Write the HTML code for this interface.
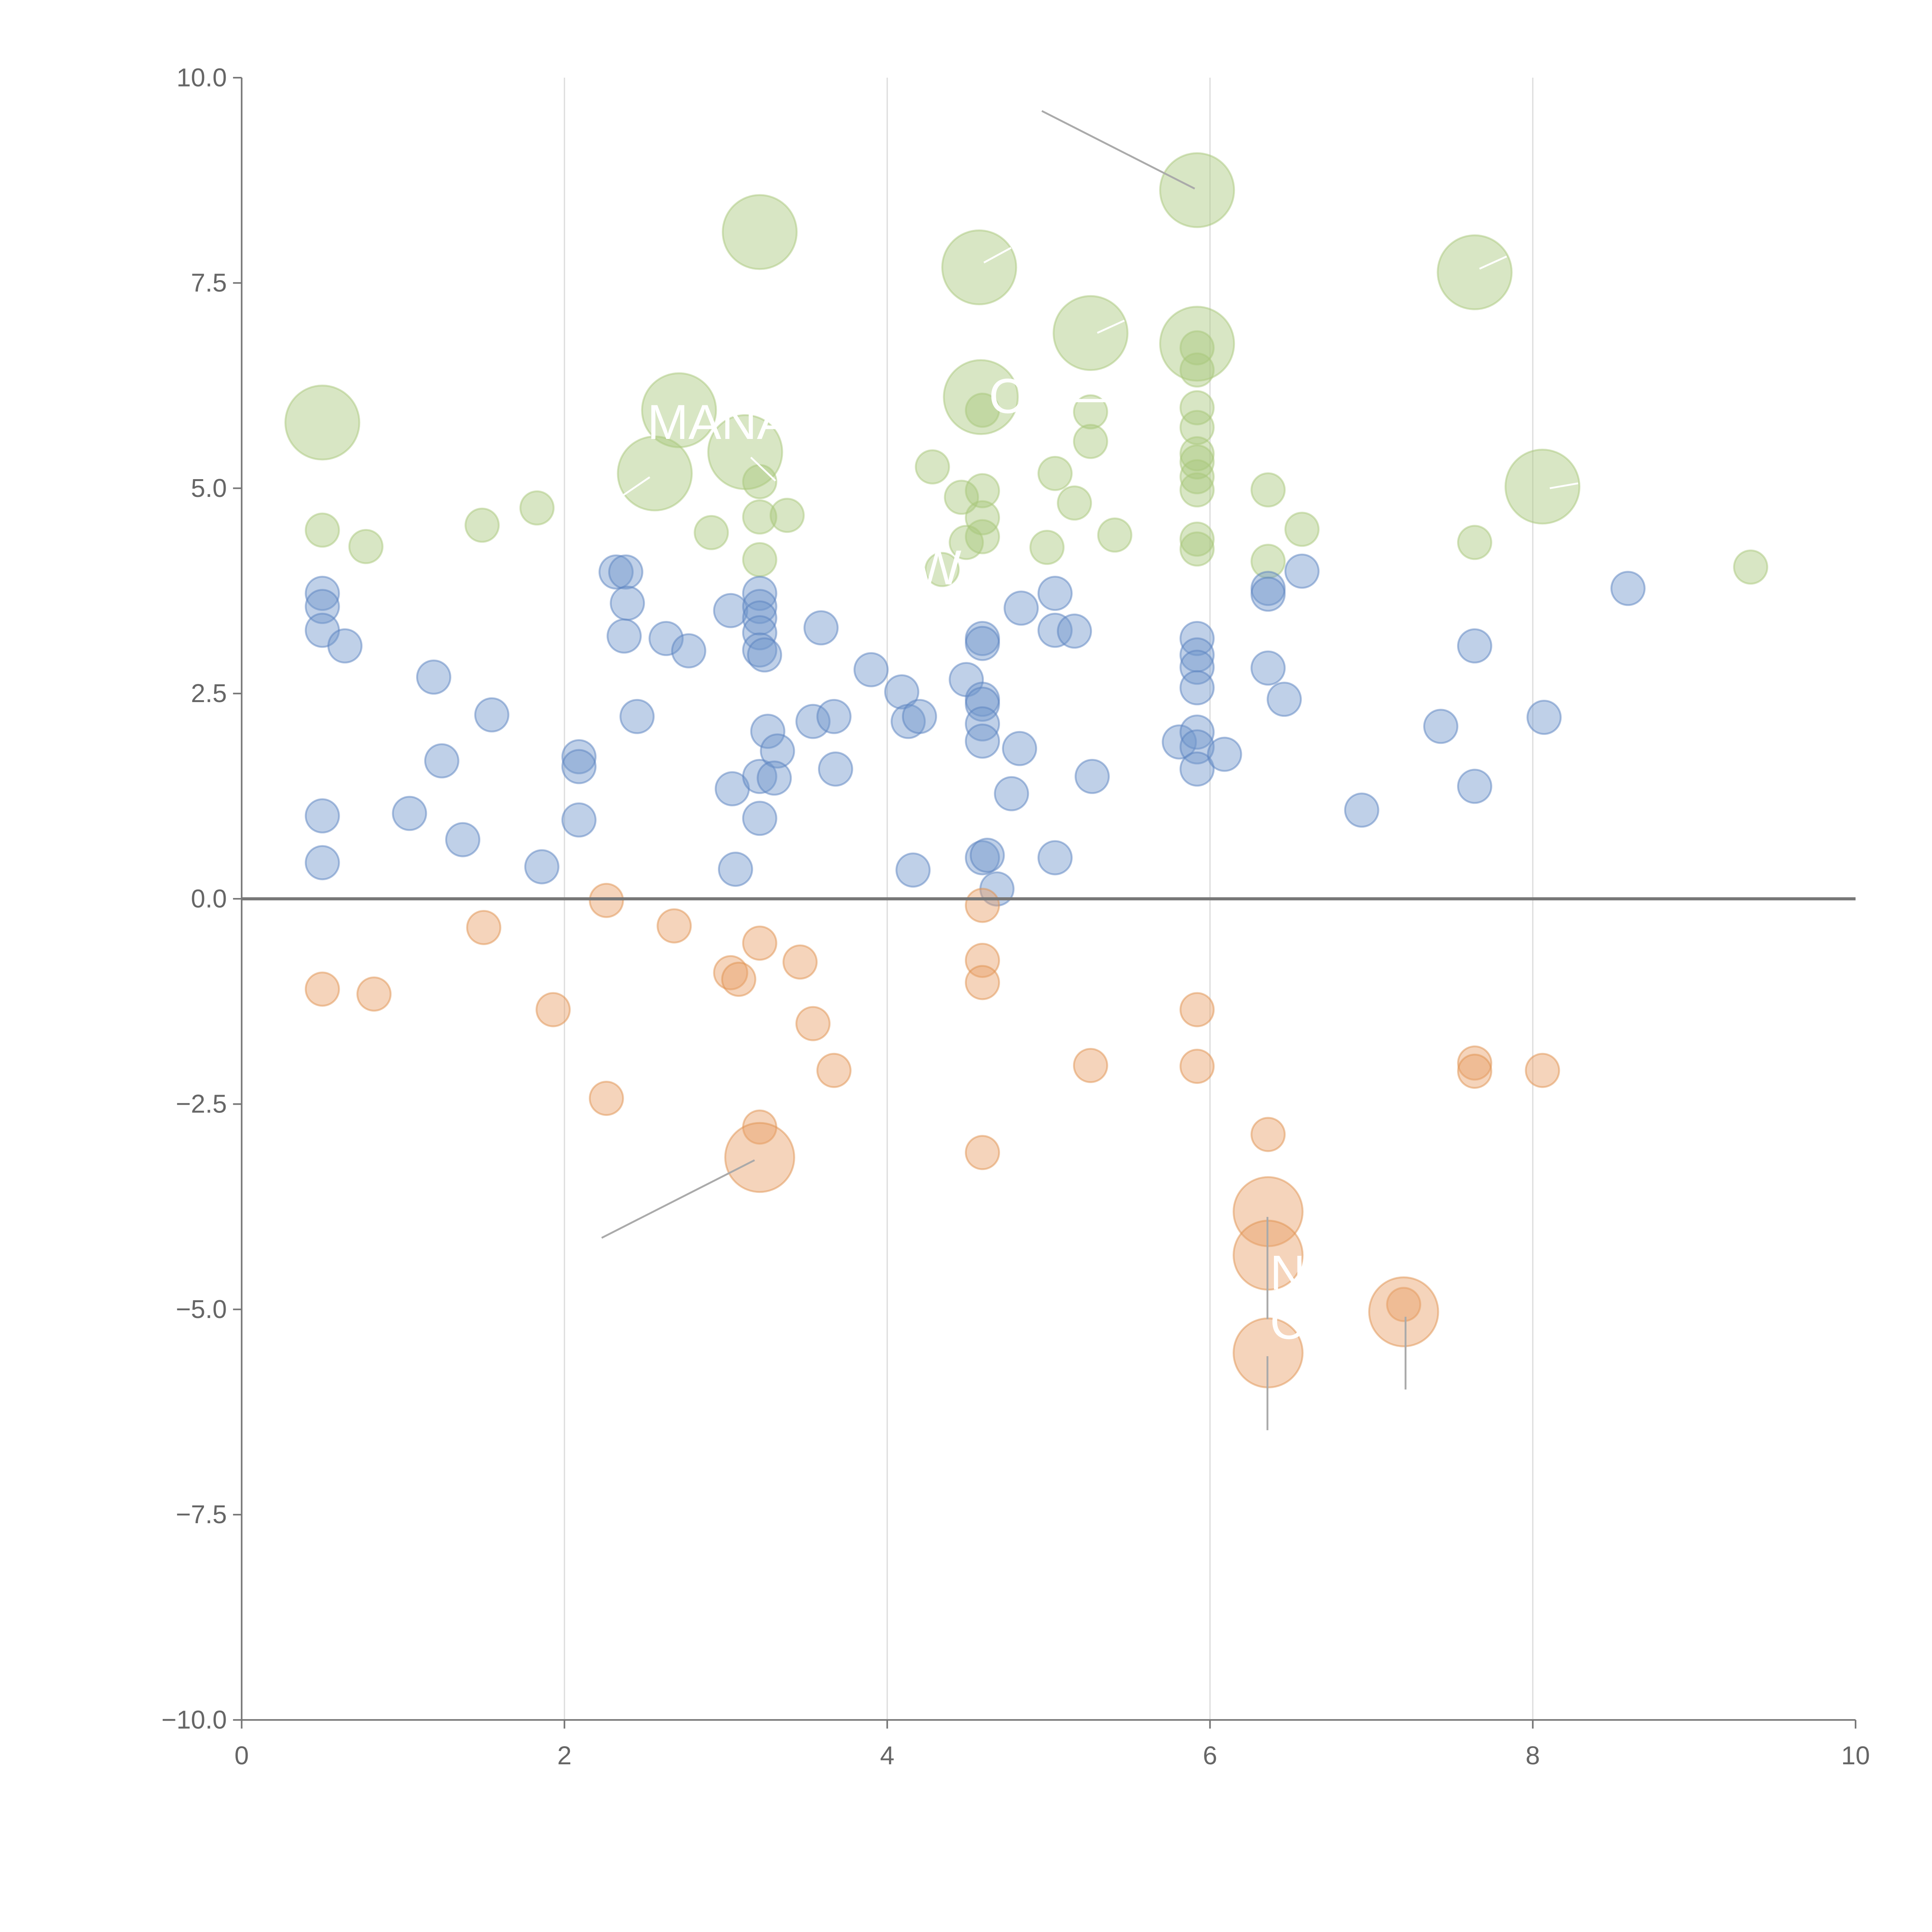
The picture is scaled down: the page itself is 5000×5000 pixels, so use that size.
<!DOCTYPE html>
<html><head><meta charset="utf-8"><style>
html,body{margin:0;padding:0;background:#fff}
svg{display:block}
text{font-family:"Liberation Sans",sans-serif}
</style></head><body>
<svg id="chart" width="5000" height="5000" viewBox="0 0 1567 1567" xmlns="http://www.w3.org/2000/svg">
<g id="grid"></g>
<g id="marks"></g>
<g id="axes"></g>
<g id="annots"></g>
</svg>
<script>
const xTicks=[0,2,4,6,8,10];
const yTicks=[-10,-7.5,-5,-2.5,0,2.5,5,7.5,10];
const greenX=[0.50,0.77,1.49,1.83,2.91,3.21,3.21,3.21,3.38,4.28,4.46,4.59,4.59,4.59,4.49,4.34,4.59,5.04,5.16,4.99,5.26,5.26,5.41,5.92,5.92,5.92,5.92,5.92,5.92,5.92,5.92,5.92,5.92,6.36,6.36,6.57,7.64,9.35,
0.50,3.21,4.57,5.26,5.92,5.92,7.64,4.58,2.71,2.56,3.12,8.06];
const greenY=[4.49,4.29,4.55,4.76,4.46,5.08,4.65,4.13,4.67,5.26,4.89,4.97,4.64,4.41,4.34,4.01,5.95,5.18,4.82,4.28,5.93,5.57,4.43,6.71,6.44,5.98,5.74,5.42,5.32,5.14,4.98,4.38,4.26,4.98,4.11,4.50,4.34,4.04,
5.80,8.12,7.69,6.89,8.63,6.76,7.63,6.11,5.95,5.18,5.44,5.02];
const greenS=[1,1,1,1,1,1,1,1,1,1,1,1,1,1,1,1,1,1,1,1,1,1,1,1,1,1,1,1,1,1,1,1,1,1,1,1,1,1,
5,5,5,5,5,5,5,5,5,5,5,5];
const blueX=[0.50,0.50,0.50,0.64,0.50,0.50,1.04,1.19,1.24,1.37,1.55,1.86,2.09,2.09,2.09,2.32,2.38,2.39,2.37,2.45,2.63,2.77,3.03,3.04,3.06,3.21,3.21,3.21,3.21,3.21,3.24,3.21,3.21,3.26,3.32,3.30,3.54,3.59,3.67,3.68,3.90,4.09,4.13,4.20,4.16,4.49,4.59,4.59,4.59,4.59,4.59,4.59,4.59,4.62,4.68,4.77,4.82,4.83,5.04,5.04,5.16,5.04,5.27,5.81,5.92,5.92,5.92,5.92,5.92,5.92,5.92,6.09,6.36,6.36,6.36,6.46,6.57,6.94,7.43,7.64,7.64,8.07,8.59];
const blueY=[3.72,3.56,3.27,3.08,1.01,0.44,1.04,2.70,1.68,0.72,2.24,0.39,1.73,1.61,0.96,3.98,3.98,3.60,3.20,2.22,3.17,3.02,3.51,1.34,0.36,3.72,3.56,3.42,3.24,3.03,2.97,1.49,0.98,2.04,1.80,1.47,2.16,3.30,2.22,1.58,2.79,2.52,2.16,2.22,0.35,2.67,3.17,3.11,2.43,2.37,2.13,1.92,0.50,0.53,0.12,1.28,1.83,3.54,3.72,3.27,3.26,0.50,1.49,1.91,3.17,2.97,2.82,2.57,2.03,1.85,1.58,1.76,3.78,3.71,2.81,2.43,3.99,1.08,2.10,3.08,1.37,2.21,3.78];
const orangeX=[0.50,0.82,1.50,1.93,2.26,2.26,2.68,3.03,3.08,3.21,3.21,3.46,3.54,3.67,4.59,4.59,4.59,4.59,5.26,5.92,5.92,6.36,7.64,7.64,8.06,7.20,
3.21,6.36,6.36,6.36,7.20];
const orangeY=[-1.10,-1.16,-0.35,-1.35,-0.02,-2.43,-0.33,-0.90,-0.98,-0.54,-2.78,-0.77,-1.52,-2.09,-0.08,-0.75,-1.02,-3.09,-2.03,-1.35,-2.04,-2.87,-2.00,-2.10,-2.09,-4.94,
-3.15,-3.81,-4.34,-5.53,-5.03];
const orangeS=[1,1,1,1,1,1,1,1,1,1,1,1,1,1,1,1,1,1,1,1,1,1,1,1,1,1,
4.3,4.3,4.3,4.3,4.3];

const NS='http://www.w3.org/2000/svg';
const X0=196,X1=1505,Y0=1395,Y1=63;
const sx=v=>X0+(v-0)/(10-0)*(X1-X0);
const sy=v=>Y0-(v+10)/20*(Y0-Y1);
function mk(tag,attrs,parent){const e=document.createElementNS(NS,tag);for(const k in attrs)e.setAttribute(k,attrs[k]);parent.appendChild(e);return e;}
const grid=document.getElementById('grid'),marks=document.getElementById('marks'),axes=document.getElementById('axes'),ann=document.getElementById('annots');
xTicks.forEach(t=>{if(t>0&&t<10){const l=mk('line',{x1:sx(t),x2:sx(t),y1:Y1,y2:Y0,stroke:'#dcdcdc','stroke-width':1},grid);

}});
function series(xs,ys,ss,fill,stroke,name){xs.forEach((x,i)=>{const s=ss?ss[i]:1;const r=s>1?(s>4.5?30:28):13.5;
const c=mk('circle',{cx:sx(x),cy:sy(ys[i]),r:r,fill:fill,'fill-opacity':0.45,stroke:stroke,'stroke-opacity':0.5,'stroke-width':1.5},marks);

});}
series(greenX,greenY,greenS,'#a9c77c','#a9c77c','green-bubble');
series(blueX,blueY,null,'#7096cc','#5a82c0','blue-bubble');
series(orangeX,orangeY,orangeS,'#e8a068','#e0924f','orange-bubble');
let a=mk('line',{x1:X0,x2:X0,y1:Y1,y2:Y0,stroke:'#777','stroke-width':1.3},axes);


a=mk('line',{x1:X0,x2:X1,y1:Y0,y2:Y0,stroke:'#777','stroke-width':1.3},axes);


a=mk('line',{x1:X0,x2:X1,y1:sy(0),y2:sy(0),stroke:'#777','stroke-width':2.5},axes);


xTicks.forEach(t=>{mk('line',{x1:sx(t),x2:sx(t),y1:Y0,y2:Y0+7,stroke:'#777','stroke-width':1.3},axes);
const tx=mk('text',{x:sx(t),y:Y0+36,'text-anchor':'middle','font-size':21,fill:'#666'},axes);tx.textContent=String(t);

});
yTicks.forEach(t=>{mk('line',{x1:X0-7,x2:X0,y1:sy(t),y2:sy(t),stroke:'#777','stroke-width':1.3},axes);
const tx=mk('text',{x:X0-12,y:sy(t)+7,'text-anchor':'end','font-size':21,fill:'#666'},axes);tx.textContent=t.toFixed(1).replace('-','\u2212');

});
[[845,90,969,153,'#aaa'],[488,1004,612,941,'#aaa'],[1028,987,1028,1070,'#aaa'],[1028,1100,1028,1160,'#aaa'],[1140,1068,1140,1127,'#aaa'],
[798,213,820,201,'#fff'],[890,270,912,260,'#fff'],[1200,218,1222,208,'#fff'],[1257,396,1280,392,'#fff'],[505,402,527,387,'#fff'],[609,371,629,390,'#fff']].forEach(p=>{
const l=mk('line',{x1:p[0],y1:p[1],x2:p[2],y2:p[3],stroke:p[4],'stroke-width':1.5},ann);

});
[['MANA',525,356],['C',802,335],['\u2014',870,335],['W',742,474],['N',1030,1046],['C',1030,1086]].forEach(t=>{
const tx=mk('text',{x:t[1],y:t[2],'font-size':40,fill:'#fff'},ann);tx.textContent=t[0];

});
</script>
</body></html>
